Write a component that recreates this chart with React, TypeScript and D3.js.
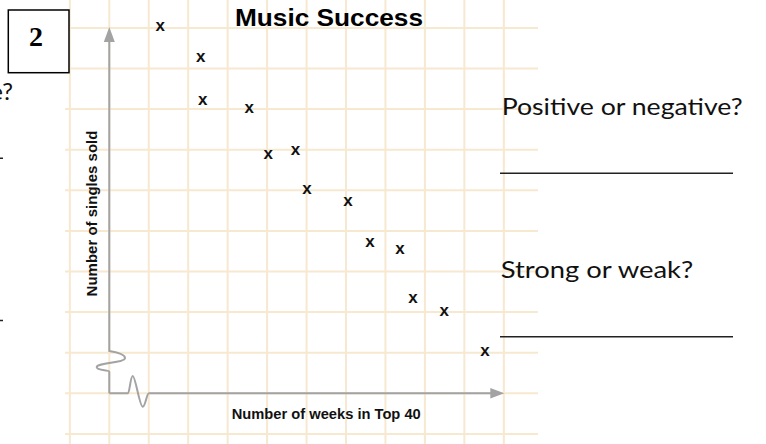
import React from "react";
import * as d3 from "d3";

// Data (in grid units)
const weeks = [1.29, 2.32, 2.37, 3.55, 4.03, 4.72, 5.01, 6.05, 6.61, 7.37, 7.7, 8.49, 9.52];
const singles = [9.02, 8.28, 7.21, 7.01, 5.88, 5.97, 5.02, 4.72, 3.71, 3.53, 2.34, 2.01, 1.03];
const xGridUnits = d3.range(-1, 11);
const yGridUnits = d3.range(-1, 10);
const title = "Music Success";
const xLabel = "Number of weeks in Top 40";
const yLabel = "Number of singles sold";
const question1 = "Positive or negative?";
const question2 = "Strong or weak?";
const boxNumber = "2";

const W = 766;
const H = 444;

export default function App() {
  const x = d3.scaleLinear().domain([0, 10]).range([109.3, 503.8]);
  const y = d3.scaleLinear().domain([0, 9]).range([393.3, 27.9]);
  const gridColor = "#f7e8d0";
  const axisColor = "#a3a3a3";
  const x0 = x(0);
  const y0 = y(0);

  const yAxisD = `M${x0},${y(9) + 12} L${x0},351 C${x0 + 6},352 ${x0 + 16},354 ${x0 + 15.7},358.3 C${x0 + 15.4},363 ${x0 - 12.8},362.5 ${x0 - 12.6},367.3 C${x0 - 12.4},371 ${x0},369.5 ${x0},371.7 L${x0},${y0}`;
  const xAxisD = `M${x0},${y0} L128,${y0} C129.5,${y0} 130.5,376 132.7,376 C135.5,376 139.5,406.7 142.7,406.7 C145.5,406.7 146.5,${y0} 149,${y0} L${x(10) - 12},${y0}`;

  const qFont = "Lato, 'Open Sans', sans-serif";

  return (
    <svg width={W} height={H} style={{ position: "absolute", left: 0, top: 0, background: "#fff" }}>
      <rect width={W} height={H} fill="#fff" />
      {/* grid */}
      <g stroke={gridColor} strokeWidth={2}>
        {xGridUnits.map((u) => (
          <line key={"vx" + u} x1={x(u)} x2={x(u)} y1={0} y2={H} />
        ))}
        {yGridUnits.map((u) => (
          <line key={"hy" + u} x1={65} x2={538} y1={y(u)} y2={y(u)} />
        ))}
      </g>
      {/* axes */}
      <path d={yAxisD} fill="none" stroke={axisColor} strokeWidth={2} />
      <path d={xAxisD} fill="none" stroke={axisColor} strokeWidth={2} />
      <polygon points={`${x0},${y(9) - 1} ${x0 - 5.5},${y(9) + 14} ${x0 + 5.5},${y(9) + 14}`} fill={axisColor} />
      <polygon points={`${x(10) + 0.5},${y0} ${x(10) - 13.5},${y0 - 5.3} ${x(10) - 13.5},${y0 + 5.3}`} fill={axisColor} />
      {/* labels */}
      <text x={235} y={26} fontFamily="'Liberation Sans', Arial, sans-serif" fontWeight="bold" fontSize={24} textLength={188} lengthAdjust="spacingAndGlyphs" fill="#000">{title}</text>
      <text x={231.7} y={419} fontFamily="'Liberation Sans', Arial, sans-serif" fontWeight="bold" fontSize={14.7} fill="#111">{xLabel}</text>
      <text transform={`translate(97,213.5) rotate(-90)`} textAnchor="middle" fontFamily="'Liberation Sans', Arial, sans-serif" fontWeight="bold" fontSize={15} fill="#111">{yLabel}</text>
      {/* points */}
      <g fontFamily="'Liberation Sans', Arial, sans-serif" fontWeight="bold" fontSize={17} fill="#111" textAnchor="middle">
        {weeks.map((w, i) => (
          <text key={i} x={x(w)} y={y(singles[i]) + 4.4}>x</text>
        ))}
      </g>
      {/* number box */}
      <rect x={8.3} y={10} width={60.7} height={62.7} fill="#fff" stroke="#000" strokeWidth={1.5} />
      <text x={36} y={45.7} textAnchor="middle" fontFamily="'Liberation Serif', 'Times New Roman', serif" fontWeight="bold" fontSize={28} fill="#000">{boxNumber}</text>
      {/* questions (right panel) */}
      <g fontFamily={qFont} fontSize={24} fill="#111">
        <text x={501.7} y={115} textLength={241} lengthAdjust="spacingAndGlyphs">{question1}</text>
        <line x1={500} x2={733} y1={173.3} y2={173.3} stroke="#222" strokeWidth={1.4} />
        <text x={500.7} y={278.3} textLength={192.6} lengthAdjust="spacingAndGlyphs">{question2}</text>
        <line x1={500} x2={733} y1={336.7} y2={336.7} stroke="#222" strokeWidth={1.4} />
      </g>
      {/* neighbouring panel, cut by the left edge */}
      <g fontFamily={qFont} fontSize={24} fill="#111">
        <text x={13} y={100} textAnchor="end">{question1}</text>
        <line x1={-230} x2={3} y1={158.3} y2={158.3} stroke="#222" strokeWidth={1.4} />
        <line x1={-230} x2={3} y1={320.5} y2={320.5} stroke="#222" strokeWidth={1.4} />
      </g>
    </svg>
  );
}
